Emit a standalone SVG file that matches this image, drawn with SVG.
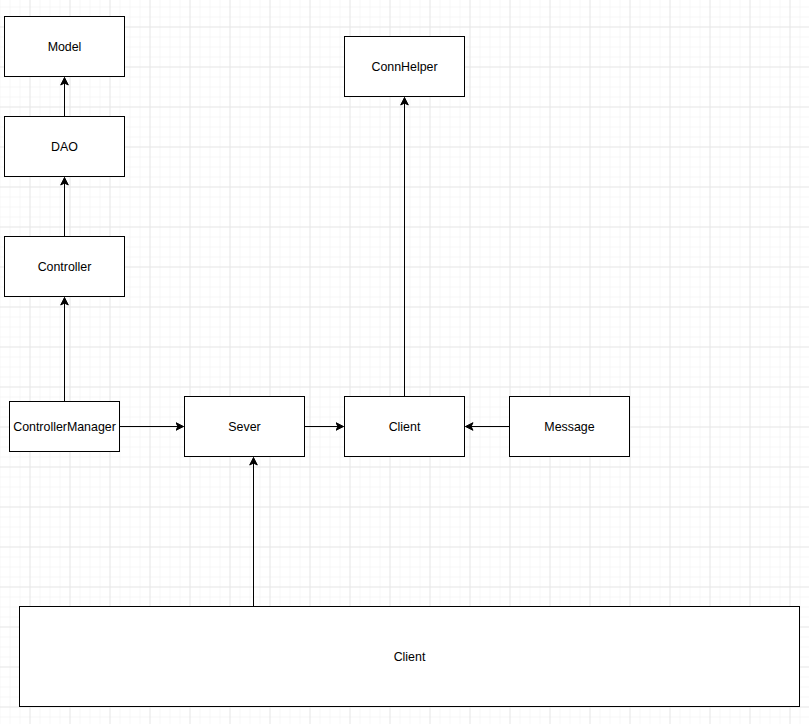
<svg xmlns="http://www.w3.org/2000/svg" width="809" height="724" viewBox="0 0 809 724">
<defs>
<pattern id="minor" width="10" height="10" patternUnits="userSpaceOnUse" x="-0.5" y="-3.5">
<path d="M0.5 0V10M0 0.5H10" stroke="#f6f6f6" stroke-width="1" fill="none"/>
</pattern>
<pattern id="major" width="40" height="40" patternUnits="userSpaceOnUse" x="-10.5" y="-13.5">
<path d="M0.5 0V40M0 0.5H40" stroke="#e8e8e8" stroke-width="1" fill="none"/>
</pattern>
<marker id="arr" markerWidth="10" markerHeight="10" viewBox="-8 -5 10 10" refX="0" refY="0" orient="auto" markerUnits="userSpaceOnUse">
<path d="M0 0L-7.5 -3.8L-5.6 0L-7.5 3.8Z" fill="#000" stroke="#000" stroke-width="1"/>
</marker>
</defs>
<style>
.n rect{fill:#fff;stroke:#000;stroke-width:1}
.n text{font-family:"Liberation Sans",Arial,sans-serif;font-size:12.4px;fill:#000;text-anchor:middle;dominant-baseline:central}
#edges path{fill:none;stroke:#000;stroke-width:1;marker-end:url(#arr)}
</style>
<rect width="809" height="724" fill="#fff"/>
<rect width="809" height="724" fill="url(#minor)"/>
<rect width="809" height="724" fill="url(#major)"/>
<g id="edges">
<path d="M64.5 116.5V77.5"/>
<path d="M64.5 236.5V177.5"/>
<path d="M64.5 401.5V297.5"/>
<path d="M119.5 426.5H183.5"/>
<path d="M304.5 426.5H343.5"/>
<path d="M509.5 426.5H465.5"/>
<path d="M404.5 396.5V97.5"/>
<path d="M253.5 606.5V457.5"/>
</g>
<g id="model" class="n"><rect x="4.5" y="16.5" width="120" height="60"/><text x="64.5" y="46.5">Model</text></g>
<g id="dao" class="n"><rect x="4.5" y="116.5" width="120" height="60"/><text x="64.5" y="146.5">DAO</text></g>
<g id="controller" class="n"><rect x="4.5" y="236.5" width="120" height="60"/><text x="64.5" y="266.5">Controller</text></g>
<g id="controllermanager" class="n"><rect x="9.5" y="401.5" width="110" height="50"/><text x="64.5" y="426.5">ControllerManager</text></g>
<g id="sever" class="n"><rect x="184.5" y="396.5" width="120" height="60"/><text x="244.5" y="426.5">Sever</text></g>
<g id="client" class="n"><rect x="344.5" y="396.5" width="120" height="60"/><text x="404.5" y="426.5">Client</text></g>
<g id="message" class="n"><rect x="509.5" y="396.5" width="120" height="60"/><text x="569.5" y="426.5">Message</text></g>
<g id="connhelper" class="n"><rect x="344.5" y="36.5" width="120" height="60"/><text x="404.5" y="66.5">ConnHelper</text></g>
<g id="client2" class="n"><rect x="19.5" y="606.5" width="780" height="100"/><text x="409.5" y="656.5">Client</text></g>
</svg>
